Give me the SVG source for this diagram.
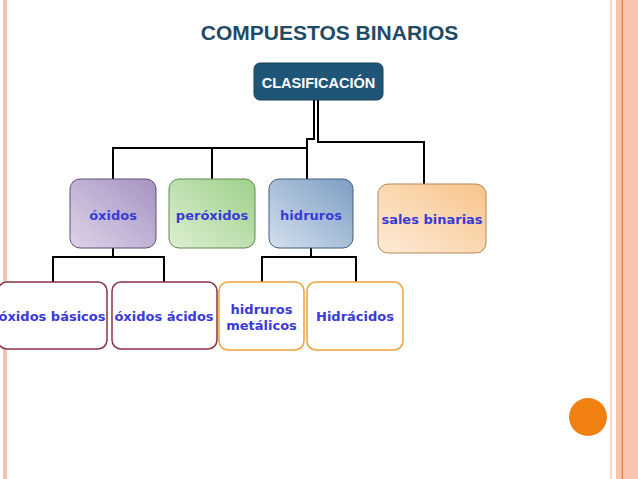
<svg xmlns="http://www.w3.org/2000/svg" width="638" height="479" viewBox="0 0 638 479">
<defs>
<linearGradient id="gPurple" x1="0" y1="1" x2="1" y2="0"><stop offset="0" stop-color="#ddd3e8"/><stop offset="1" stop-color="#a593c2"/></linearGradient>
<linearGradient id="gGreen" x1="0" y1="1" x2="1" y2="0"><stop offset="0" stop-color="#dcefd2"/><stop offset="1" stop-color="#9fd08a"/></linearGradient>
<linearGradient id="gBlue" x1="0" y1="1" x2="1" y2="0"><stop offset="0" stop-color="#d3e0ee"/><stop offset="1" stop-color="#7d9dc2"/></linearGradient>
<linearGradient id="gOrange" x1="0" y1="1" x2="1" y2="0"><stop offset="0" stop-color="#fdebd8"/><stop offset="1" stop-color="#f8c48a"/></linearGradient>
<style>
.lbl{font-family:"DejaVu Sans",Verdana,sans-serif;font-weight:bold;font-size:13px;fill:#3a3ad8;text-anchor:middle}
.conn{fill:none;stroke:#000;stroke-width:2}
.l2red{fill:#fff;stroke:#8a3244;stroke-width:1.5}
.l2org{fill:#fff;stroke:#eea23c;stroke-width:1.5}
</style>
</defs>
<rect width="638" height="479" fill="#fff"/>
<rect x="3" y="0" width="4" height="479" fill="#f5c3b0"/>
<rect x="610" y="0" width="2" height="479" fill="#f8d3c4"/>
<rect x="616" y="0" width="22" height="479" fill="#f7c5b0"/>
<rect x="621.5" y="0" width="1.5" height="479" fill="#e8894a"/>
<text x="329.5" y="40" font-family="Liberation Sans, Arial, sans-serif" font-weight="bold" font-size="21" fill="#1f4a66" text-anchor="middle">COMPUESTOS BINARIOS</text>
<g id="connectors">
<path class="conn" d="M314,100 V139 H307 V179"/>
<path class="conn" d="M318,100 V142 H424 V184"/>
<path class="conn" d="M113,179 V148 H307"/>
<path class="conn" d="M212,148 V179"/>
<path class="conn" d="M113,248 V257 M53,282 V257 H164 V282"/>
<path class="conn" d="M311,248 V257 M262,282 V257 H356 V282"/>
</g>
<g id="clasificacion">
<rect x="254" y="63" width="129" height="37" rx="6" fill="#1f5678" stroke="#17405a" stroke-width="1"/>
<text x="318.5" y="87.5" font-family="Liberation Sans, Arial, sans-serif" font-weight="bold" font-size="14.5" fill="#fff" text-anchor="middle">CLASIFICACIÓN</text>
</g>
<g id="oxidos">
<rect x="70" y="179" width="86" height="69" rx="10" fill="url(#gPurple)" stroke="#5e4e78" stroke-width="1"/>
<text class="lbl" x="113" y="219.5">óxidos</text>
</g>
<g id="peroxidos">
<rect x="169" y="179" width="86" height="69" rx="10" fill="url(#gGreen)" stroke="#5f8a4f" stroke-width="1"/>
<text class="lbl" x="212" y="219.5">peróxidos</text>
</g>
<g id="hidruros">
<rect x="269" y="179" width="84" height="69" rx="10" fill="url(#gBlue)" stroke="#3f5f80" stroke-width="1"/>
<text class="lbl" x="311" y="219.5">hidruros</text>
</g>
<g id="sales">
<rect x="378" y="184" width="108" height="69" rx="10" fill="url(#gOrange)" stroke="#b58658" stroke-width="1"/>
<text class="lbl" x="432" y="223.5">sales binarias</text>
</g>
<g id="oxidos-basicos">
<rect class="l2red" x="-2" y="282" width="109" height="67" rx="9"/>
<text class="lbl" x="52" y="321">óxidos básicos</text>
</g>
<g id="oxidos-acidos">
<rect class="l2red" x="112" y="282" width="105" height="67" rx="9"/>
<text class="lbl" x="164" y="321">óxidos ácidos</text>
</g>
<g id="hidruros-metalicos">
<rect class="l2org" x="219" y="282" width="85" height="68" rx="9"/>
<text class="lbl" x="261.5" y="313.5">hidruros</text>
<text class="lbl" x="261.5" y="330">metálicos</text>
</g>
<g id="hidracidos">
<rect class="l2org" x="307" y="282" width="96" height="68" rx="9"/>
<text class="lbl" x="355" y="321">Hidrácidos</text>
</g>
<circle cx="588" cy="417" r="19" fill="#f0800f"/>
</svg>
